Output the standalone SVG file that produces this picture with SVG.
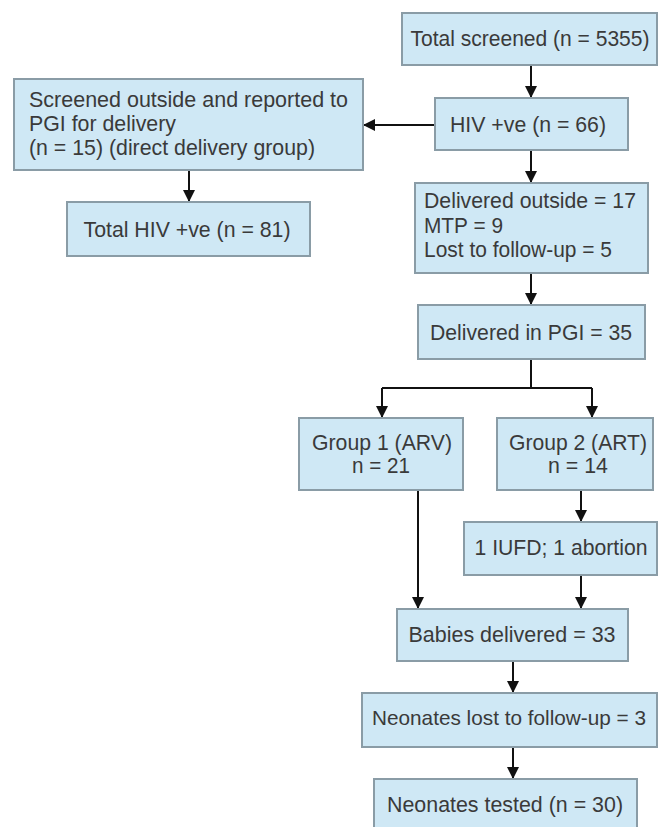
<svg xmlns="http://www.w3.org/2000/svg" width="659" height="827" viewBox="0 0 659 827">
<defs>
<marker id="ah" markerUnits="userSpaceOnUse" markerWidth="12" markerHeight="12" viewBox="0 0 12 12" refX="12" refY="6" orient="auto">
<path d="M0,0 L12,6 L0,12 z" fill="#111"/>
</marker>
<style>
.box{fill:#cfe8f5;stroke:#8a9ca6;stroke-width:2}
.t{font-family:"Liberation Sans",Arial,sans-serif;font-size:22px;fill:#3a3a3a}
.c{text-anchor:middle}
.ln{stroke:#111;stroke-width:2;fill:none}
.ar{stroke:#111;stroke-width:2;fill:none;marker-end:url(#ah)}
</style>
</defs>
<rect width="659" height="827" fill="#ffffff"/>
<g id="connectors">
<path class="ar" d="M531,65 V98"/>
<path class="ar" d="M435,125 H363"/>
<path class="ar" d="M189,170 V202"/>
<path class="ar" d="M531,150 V183"/>
<path class="ar" d="M531,273 V305"/>
<path class="ln" d="M531,359 V388 M382,388 H592"/>
<path class="ar" d="M382,388 V418"/>
<path class="ar" d="M592,388 V418"/>
<path class="ar" d="M418,490 V609"/>
<path class="ar" d="M581,490 V522"/>
<path class="ar" d="M581,575 V609"/>
<path class="ar" d="M513,661 V693"/>
<path class="ar" d="M513,747 V779"/>
</g>
<g id="total-screened">
<rect class="box" x="402" y="13" width="255" height="52"/>
<text class="t c" x="530" y="46" textLength="239" lengthAdjust="spacingAndGlyphs">Total screened (n = 5355)</text>
</g>
<g id="hiv-positive">
<rect class="box" x="435" y="98" width="193" height="52"/>
<text class="t c" x="528" y="132" textLength="156" lengthAdjust="spacingAndGlyphs">HIV +ve (n = 66)</text>
</g>
<g id="screened-outside">
<rect class="box" x="14" y="79" width="349" height="91"/>
<text class="t" x="29" y="107" textLength="319" lengthAdjust="spacingAndGlyphs">Screened outside and reported to</text>
<text class="t" x="29" y="131" textLength="147" lengthAdjust="spacingAndGlyphs">PGI for delivery</text>
<text class="t" x="29" y="155" textLength="286" lengthAdjust="spacingAndGlyphs">(n = 15) (direct delivery group)</text>
</g>
<g id="total-hiv">
<rect class="box" x="67" y="202" width="243" height="54"/>
<text class="t c" x="187" y="237" textLength="207" lengthAdjust="spacingAndGlyphs">Total HIV +ve (n = 81)</text>
</g>
<g id="delivered-outside">
<rect class="box" x="415" y="183" width="233" height="90"/>
<text class="t" x="424" y="208" textLength="212" lengthAdjust="spacingAndGlyphs">Delivered outside = 17</text>
<text class="t" x="424" y="233" textLength="79" lengthAdjust="spacingAndGlyphs">MTP = 9</text>
<text class="t" x="424" y="257" textLength="188" lengthAdjust="spacingAndGlyphs">Lost to follow-up = 5</text>
</g>
<g id="delivered-pgi">
<rect class="box" x="418" y="305" width="227" height="54"/>
<text class="t c" x="531" y="340" textLength="202" lengthAdjust="spacingAndGlyphs">Delivered in PGI = 35</text>
</g>
<g id="group1">
<rect class="box" x="299" y="418" width="164" height="72"/>
<text class="t c" x="382" y="450" textLength="140" lengthAdjust="spacingAndGlyphs">Group 1 (ARV)</text>
<text class="t c" x="381" y="473" textLength="58" lengthAdjust="spacingAndGlyphs">n = 21</text>
</g>
<g id="group2">
<rect class="box" x="497" y="418" width="156" height="72"/>
<text class="t c" x="578" y="450" textLength="138" lengthAdjust="spacingAndGlyphs">Group 2 (ART)</text>
<text class="t c" x="578" y="473" textLength="60" lengthAdjust="spacingAndGlyphs">n = 14</text>
</g>
<g id="iufd">
<rect class="box" x="464" y="522" width="193" height="53"/>
<text class="t c" x="561" y="555" textLength="173" lengthAdjust="spacingAndGlyphs">1 IUFD; 1 abortion</text>
</g>
<g id="babies">
<rect class="box" x="397" y="609" width="231" height="52"/>
<text class="t c" x="512" y="642" textLength="207" lengthAdjust="spacingAndGlyphs">Babies delivered = 33</text>
</g>
<g id="neonates-lost">
<rect class="box" x="362" y="693" width="295" height="54"/>
<text class="t c" x="509" y="725" style="font-size:21px" textLength="274" lengthAdjust="spacingAndGlyphs">Neonates lost to follow-up = 3</text>
</g>
<g id="neonates-tested">
<rect class="box" x="374" y="779" width="263" height="52"/>
<text class="t c" x="505" y="812" textLength="236" lengthAdjust="spacingAndGlyphs">Neonates tested (n = 30)</text>
</g>
</svg>
